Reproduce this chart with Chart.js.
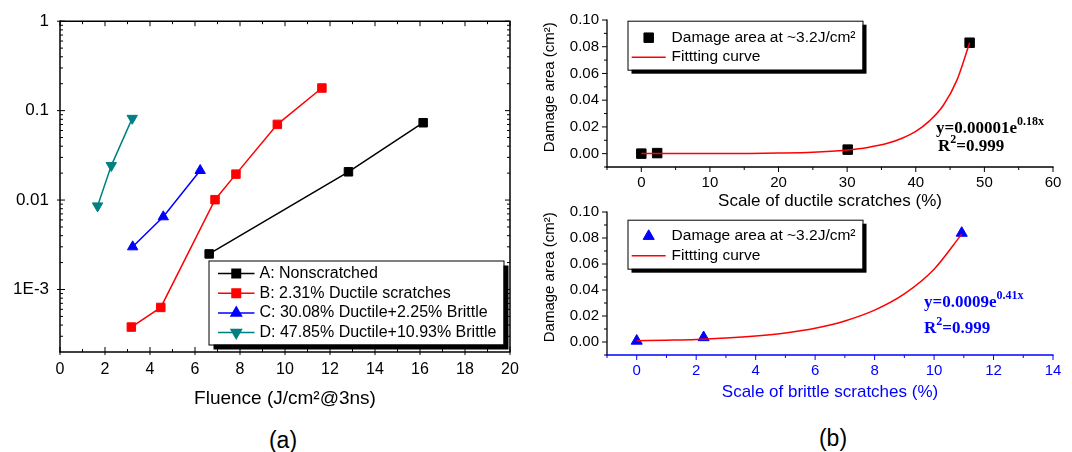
<!DOCTYPE html>
<html><head><meta charset="utf-8">
<script src="https://cdn.jsdelivr.net/npm/chart.js@4/dist/chart.umd.min.js"></script>
<style>
html,body{margin:0;padding:0;background:#fff;width:1072px;height:452px;overflow:hidden;position:relative;font-family:"Liberation Sans",Arial,sans-serif;}
canvas{position:absolute;}
.t{position:absolute;white-space:nowrap;line-height:1;}
.lbl{font-size:23px;color:#000;transform:translate(-50%,-50%);}
.eq{font-family:"Liberation Serif","Times New Roman",serif;font-weight:bold;font-size:17px;}
.eq sup{font-size:12px;vertical-align:baseline;position:relative;top:-8px;}
.blue{color:#0000ff;}
</style></head><body>
<canvas id="ca" width="530" height="420" style="left:0;top:0"></canvas>
<canvas id="cb1" width="542" height="212" style="left:530px;top:0"></canvas>
<canvas id="cb2" width="542" height="210" style="left:530px;top:195px"></canvas>
<div class="t lbl" style="left:283px;top:440px">(a)</div>
<div class="t lbl" style="left:833px;top:438px">(b)</div>
<div class="t eq" style="left:936px;top:119px">y=0.00001e<sup>0.18x</sup></div>
<div class="t eq" style="left:938px;top:137px">R<sup>2</sup>=0.999</div>
<div class="t eq blue" style="left:924px;top:293px">y=0.0009e<sup>0.41x</sup></div>
<div class="t eq blue" style="left:924px;top:319px">R<sup>2</sup>=0.999</div>
<script>
// ---------- (a) damage area vs fluence ----------
const seriesNamesA = ['A: Nonscratched', 'B: 2.31% Ductile scratches', 'C: 30.08% Ductile+2.25% Brittle', 'D: 47.85% Ductile+10.93% Brittle'];
const fluenceA = [6.63, 12.82, 16.14];
const areaA = [0.0025, 0.0207, 0.0732];
const fluenceB = [3.17, 4.48, 6.89, 7.82, 9.66, 11.64];
const areaB = [0.00038, 0.00063, 0.0101, 0.0195, 0.0702, 0.179];
const fluenceC = [3.23, 4.59, 6.23];
const areaC = [0.0030, 0.0065, 0.0214];
const fluenceD = [1.67, 2.28, 3.21];
const areaD = [0.0086, 0.0243, 0.082];
const xTickLabelsA = [0, 2, 4, 6, 8, 10, 12, 14, 16, 18, 20];
const yTickLabelsA = {'1': '1', '0.1': '0.1', '0.01': '0.01', '0.001': '1E-3'};
const yDecadesA = [0.001, 0.01, 0.1, 1];

// ---------- (b) damage area vs scratch scale ----------
const legendNamesB = ['Damage area at ~3.2J/cm²', 'Fittting curve'];
const ductileScale = [0, 2.31, 30.08, 47.85];
const ductileArea = [0, 0.0004, 0.003, 0.083];
const ductileFitX = [0, 5, 10, 15, 20, 25, 30, 33, 36, 38, 40, 42, 44, 46, 47.85];
const ductileFitY = [0.00001, 0.00003, 0.00007, 0.00017, 0.0004, 0.001, 0.0027, 0.0046, 0.0079, 0.0115, 0.0166, 0.0245, 0.036, 0.055, 0.083];
const brittleScale = [0, 2.25, 10.93];
const brittleArea = [0.0008, 0.0035, 0.0838];
const brittleFitX = [0, 1, 2, 3, 4, 5, 6, 7, 8, 9, 10, 10.93];
const brittleFitY = [0.0009, 0.0014, 0.002, 0.0031, 0.0047, 0.007, 0.0106, 0.0162, 0.0245, 0.037, 0.056, 0.083];
const xTickLabelsB1 = [0, 10, 20, 30, 40, 50, 60];
const xTickLabelsB2 = [0, 2, 4, 6, 8, 10, 12, 14];
const yTickLabelsB = ['0.00', '0.02', '0.04', '0.06', '0.08', '0.10'];

const FONT = '"Liberation Sans", Arial, sans-serif';
Chart.defaults.font.family = FONT;
Chart.defaults.color = '#000';

const pts = (xs, ys) => xs.map((x, i) => ({x: x, y: ys[i]}));
const near = (a, b) => Math.abs(a - b) < 1e-9;

function drawMarker(ctx, style, rot, r, x, y, color) {
  ctx.fillStyle = color; ctx.strokeStyle = color;
  if (Chart.helpers && Chart.helpers.drawPoint) {
    Chart.helpers.drawPoint(ctx, {pointStyle: style, rotation: rot || 0, radius: r, borderWidth: 1}, x, y);
  } else {
    ctx.beginPath();
    if (style === 'rect') { const s = r * Math.SQRT1_2; ctx.rect(x - s, y - s, 2 * s, 2 * s); }
    else { const d = rot ? -1 : 1; ctx.moveTo(x, y - d * r); ctx.lineTo(x + r * 0.866, y + d * r / 2); ctx.lineTo(x - r * 0.866, y + d * r / 2); ctx.closePath(); }
    ctx.fill(); ctx.stroke();
  }
}

const axisPlugin = {
  id: 'axisDraw',
  afterDraw(chart, args, o) {
    const {ctx, chartArea: a} = chart;
    const xs = chart.scales.x, ys = chart.scales.y;
    ctx.save();
    const line = (x1, y1, x2, y2, c, w) => { ctx.strokeStyle = c; ctx.lineWidth = w; ctx.beginPath(); ctx.moveTo(x1, y1); ctx.lineTo(x2, y2); ctx.stroke(); };
    const tickX = (vals, inL, outL) => vals.forEach(v => {
      const p = xs.getPixelForValue(v);
      line(p, a.bottom - inL, p, a.bottom + outL, o.xColor, 1);
      if (o.frame && inL) line(p, a.top, p, a.top + inL, o.xColor, 1);
    });
    const tickY = (vals, inL, outL) => vals.forEach(v => {
      const p = ys.getPixelForValue(v);
      line(a.left - outL, p, a.left + inL, p, o.yColor, 1);
      if (o.frame && inL) line(a.right - inL, p, a.right, p, o.yColor, 1);
    });
    tickX(o.xMajor, o.majIn, o.majOut); tickX(o.xMinor, o.minIn, o.minOut);
    tickY(o.yMajor, o.majIn, o.majOut); tickY(o.yMinor, o.minIn, o.minOut);
    line(a.left, a.top - 0.6, a.left, a.bottom + 0.6, o.yColor, o.lw);
    line(a.left - 0.6, a.bottom, a.right + 0.6, a.bottom, o.xColor, o.lw);
    if (o.frame) {
      line(a.left, a.top, a.right + 0.6, a.top, o.xColor, o.lw);
      line(a.right, a.top, a.right, a.bottom, o.yColor, o.lw);
    }
    ctx.restore();
  }
};

const legendPlugin = {
  id: 'boxLegend',
  afterDraw(chart, args, o) {
    const ctx = chart.ctx;
    ctx.save();
    ctx.fillStyle = '#000'; ctx.fillRect(o.x + o.shadow, o.y + o.shadow, o.w, o.h);
    ctx.fillStyle = '#fff'; ctx.fillRect(o.x, o.y, o.w, o.h);
    ctx.strokeStyle = '#000'; ctx.lineWidth = 1; ctx.strokeRect(o.x + 0.5, o.y + 0.5, o.w, o.h);
    chart.data.datasets.forEach((ds, i) => {
      const y = o.rowY + i * o.rowH;
      if (ds.showLine !== false) {
        ctx.strokeStyle = ds.borderColor; ctx.lineWidth = 1.5;
        ctx.beginPath(); ctx.moveTo(o.lineX1, y); ctx.lineTo(o.lineX2, y); ctx.stroke();
      }
      if (ds.pointRadius > 0) drawMarker(ctx, ds.pointStyle, ds.pointRotation, ds.pointRadius, (o.lineX1 + o.lineX2) / 2, y, ds.backgroundColor);
      ctx.fillStyle = '#000'; ctx.font = o.font; ctx.textBaseline = 'middle'; ctx.textAlign = 'left';
      ctx.fillText(ds.label, o.textX, y);
    });
    ctx.restore();
  }
};

// minor tick positions
const xMinorA = []; for (let v = 1; v < 20; v += 2) xMinorA.push(v);
const yMinorA = []; for (let d = -4; d <= -1; d++) for (let m = 2; m <= 9; m++) { const v = m * Math.pow(10, d); if (v > 2.01e-4 && v < 1) yMinorA.push(v); }

new Chart(document.getElementById('ca'), {
  type: 'line',
  data: {datasets: [
    {label: seriesNamesA[0], data: pts(fluenceA, areaA), borderColor: '#000000', backgroundColor: '#000000', pointStyle: 'rect', pointRadius: 6, borderWidth: 1.5, pointBorderWidth: 1},
    {label: seriesNamesA[1], data: pts(fluenceB, areaB), borderColor: '#ff0000', backgroundColor: '#ff0000', pointStyle: 'rect', pointRadius: 6, borderWidth: 1.5, pointBorderWidth: 1},
    {label: seriesNamesA[2], data: pts(fluenceC, areaC), borderColor: '#0000ff', backgroundColor: '#0000ff', pointStyle: 'triangle', pointRadius: 6, borderWidth: 1.5, pointBorderWidth: 1},
    {label: seriesNamesA[3], data: pts(fluenceD, areaD), borderColor: '#008080', backgroundColor: '#008080', pointStyle: 'triangle', pointRotation: 180, pointRadius: 6, borderWidth: 1.5, pointBorderWidth: 1}
  ]},
  options: {
    responsive: false, animation: false, events: [],
    layout: {padding: {left: 0, top: 18, right: 20, bottom: 0}},
    plugins: {
      legend: {display: false}, tooltip: {enabled: false},
      axisDraw: {frame: true, xMajor: xTickLabelsA, xMinor: xMinorA, yMajor: yDecadesA, yMinor: yMinorA, majIn: 5, majOut: 3, minIn: 3, minOut: 0, xColor: '#000', yColor: '#000', lw: 1.5},
      boxLegend: {x: 208.5, y: 260.5, w: 295, h: 84, shadow: 5, rowY: 273.5, rowH: 19.7, lineX1: 218, lineX2: 254.5, textX: 259.5, font: '16px ' + FONT}
    },
    scales: {
      x: {type: 'linear', min: 0, max: 20, afterFit: s => { s.height = 68; },
          grid: {display: false, drawTicks: false}, border: {display: false},
          ticks: {stepSize: 2, autoSkip: false, maxRotation: 0, color: '#000', font: {size: 16}, padding: 8,
                  callback: v => xTickLabelsA.some(t => near(t, v)) ? String(v) : ''},
          title: {display: true, text: 'Fluence (J/cm²@3ns)', color: '#000', font: {size: 19}, padding: {top: 0, bottom: 10}}},
      y: {type: 'logarithmic', min: 2e-4, max: 1, afterFit: s => { s.width = 60; },
          grid: {display: false, drawTicks: false}, border: {display: false},
          ticks: {autoSkip: false, color: '#000', font: {size: 17}, padding: 11,
                  callback: v => { for (const k in yTickLabelsA) { if (Math.abs(v / parseFloat(k) - 1) < 1e-6) return yTickLabelsA[k]; } return ''; }}}
    }
  },
  plugins: [axisPlugin, legendPlugin]
});

function makeB(id, xs, ys, fx, fy, marker, color, xMin, xMax, xStep, xLabels, xColor, xTitle, xHeight, titlePad, topPad, r, legY, rowY) {
  const xMinor = []; for (let v = xMin; v <= xMax + 1e-9; v += xStep) { if (!xLabels.some(t => near(t, v))) xMinor.push(v); }
  const yMajor = yTickLabelsB.map(parseFloat);
  const yMinor = [-0.01, 0.01, 0.03, 0.05, 0.07, 0.09];
  new Chart(document.getElementById(id), {
    type: 'line',
    data: {datasets: [
      {label: legendNamesB[0], data: pts(xs, ys), showLine: false, pointStyle: marker, pointRadius: r, backgroundColor: color, borderColor: color, pointBorderWidth: 1, order: 1},
      {label: legendNamesB[1], data: pts(fx, fy), borderColor: '#ff0000', backgroundColor: '#ff0000', borderWidth: 1.5, pointRadius: 0, cubicInterpolationMode: 'monotone', order: 0}
    ]},
    options: {
      responsive: false, animation: false, events: [],
      layout: {padding: {left: 0, top: topPad, right: 19, bottom: 0}},
      plugins: {
        legend: {display: false}, tooltip: {enabled: false},
        axisDraw: {frame: false, xMajor: xLabels, xMinor: xMinor, yMajor: yMajor, yMinor: yMinor, majIn: 0, majOut: 5, minIn: 0, minOut: 3, xColor: xColor, yColor: '#000', lw: 1.3},
        boxLegend: {x: 97.5, y: legY, w: 235, h: 49, shadow: 4, rowY: rowY, rowH: 19.5, lineX1: 101.7, lineX2: 135.7, textX: 141.6, font: '15.5px ' + FONT}
      },
      scales: {
        x: {type: 'linear', min: xMin, max: xMax, afterFit: s => { s.height = xHeight; },
            grid: {display: false, drawTicks: false}, border: {display: false},
            ticks: {stepSize: xStep, autoSkip: false, maxRotation: 0, color: xColor, font: {size: 15}, padding: 7,
                    callback: v => xLabels.some(t => near(t, v)) ? String(Math.round(v)) : ''},
            title: {display: true, text: xTitle, color: xColor, font: {size: 17}, padding: {top: 0, bottom: titlePad}}},
        y: {type: 'linear', min: -0.01, max: 0.10, afterFit: s => { s.width = 77; },
            grid: {display: false, drawTicks: false}, border: {display: false},
            ticks: {stepSize: 0.01, autoSkip: false, color: '#000', font: {size: 15}, padding: 8,
                    callback: v => { const l = yTickLabelsB.find(t => Math.abs(parseFloat(t) - v) < 1e-9); return l || ''; }},
            title: {display: true, text: '   Damage area (cm²)', color: '#000', font: {size: 15}, padding: {top: 11, bottom: 0}}}
      }
    },
    plugins: [axisPlugin, legendPlugin]
  });
}

makeB('cb1', ductileScale, ductileArea, ductileFitX, ductileFitY, 'rect', '#000000', -5, 60, 5, xTickLabelsB1, '#000', 'Scale of ductile scratches (%)', 45, 0, 20, 6.7, 20.7, 37.7);
makeB('cb2', brittleScale, brittleArea, brittleFitX, brittleFitY, 'triangle', '#0000ff', -1, 14, 1, xTickLabelsB2, '#0000ff', 'Scale of brittle scratches (%)', 50, 2, 15, 6.4, 24.7, 41.2);
</script>
</body></html>
